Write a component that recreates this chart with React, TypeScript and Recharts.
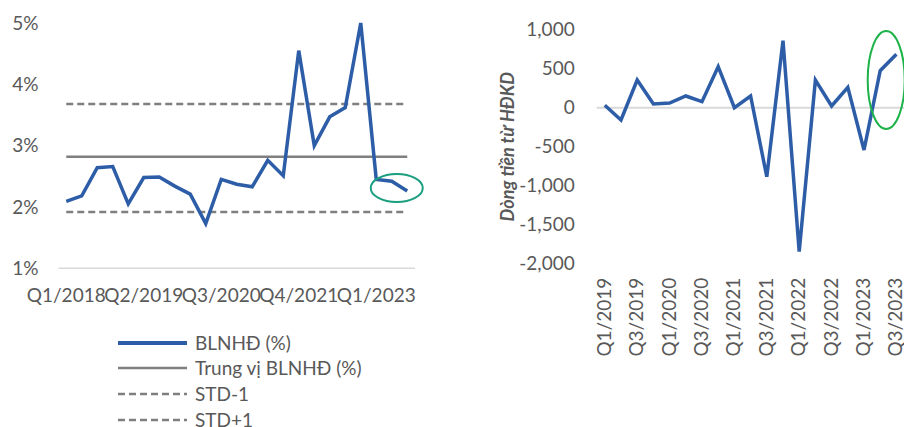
import React from "react";
import {
  LineChart,
  Line,
  XAxis,
  YAxis,
  ReferenceLine,
  ReferenceDot,
} from "recharts";

// left chart: gross margin by quarter (%)
const marginQuarters = [
  "Q1/2018", "Q2/2018", "Q3/2018", "Q4/2018",
  "Q1/2019", "Q2/2019", "Q3/2019", "Q4/2019",
  "Q1/2020", "Q2/2020", "Q3/2020", "Q4/2020",
  "Q1/2021", "Q2/2021", "Q3/2021", "Q4/2021",
  "Q1/2022", "Q2/2022", "Q3/2022", "Q4/2022",
  "Q1/2023", "Q2/2023", "Q3/2023",
];
const marginValues = [
  2.09, 2.18, 2.64, 2.66, 2.05, 2.48, 2.49, 2.34, 2.21, 1.73, 2.45, 2.37,
  2.33, 2.76, 2.51, 4.55, 3.0, 3.47, 3.62, 5.0, 2.45, 2.42, 2.26,
];
const marginTicks = [1, 2, 3, 4, 5];
const MEDIAN = 2.82;
const STD_MINUS = 1.92;
const STD_PLUS = 3.68;

// right chart: operating cash flow
const cashQuarters = [
  "Q1/2019", "Q2/2019", "Q3/2019", "Q4/2019",
  "Q1/2020", "Q2/2020", "Q3/2020", "Q4/2020",
  "Q1/2021", "Q2/2021", "Q3/2021", "Q4/2021",
  "Q1/2022", "Q2/2022", "Q3/2022", "Q4/2022",
  "Q1/2023", "Q2/2023", "Q3/2023",
];
const cashValues = [
  31, -158, 355, 47, 60, 150, 77, 526, 0, 150, -885, 859, -1846, 355, 22, 261,
  -542, 474, 685,
];
const cashTicks = [-2000, -1500, -1000, -500, 0, 500, 1000];

const legendItems = [
  { name: "BLNHĐ (%)", color: "#2E5DA8", width: 4, dash: undefined },
  { name: "Trung vị BLNHĐ (%)", color: "#7F7F7F", width: 2.5, dash: undefined },
  { name: "STD-1", color: "#7F7F7F", width: 2.5, dash: "7 4" },
  { name: "STD+1", color: "#7F7F7F", width: 2.5, dash: "7 4" },
];

const BLUE = "#2E5DA8";
const GRAY = "#7F7F7F";
const TEXT = "#595959";
const FONT = "Lato, 'Open Sans', sans-serif";
const FS = 19;

const marginData = marginQuarters.map((q, i) => ({ q, v: marginValues[i] }));
const cashData = cashQuarters.map((q, i) => ({ q, v: cashValues[i] }));

const RotatedTick = (props: any) => {
  const { x, y, payload } = props;
  return (
    <g transform={`translate(${x},${y}) rotate(-90)`}>
      <text x={0} y={0} dy="0.32em" textAnchor="end" fill={TEXT} fontSize={FS} fontFamily={FONT}>
        {payload.value}
      </text>
    </g>
  );
};

const fmtThousands = (v: number) => v.toLocaleString("en-US");

export default function App() {
  return (
    <div
      style={{
        position: "absolute",
        left: 0,
        top: 0,
        width: 904,
        height: 427,
        overflow: "hidden",
        background: "#fff",
        fontFamily: FONT,
      }}
    >
      <div style={{ position: "absolute", left: 0, top: 0 }}>
        <LineChart
          width={430}
          height={310}
          data={marginData}
          margin={{ top: 23, right: 15, left: 8.5, bottom: 11.7 }}
        >
          <XAxis
            dataKey="q"
            interval={4}
            height={30}
            padding={{ left: 7.75, right: 7.75 }}
            axisLine={{ stroke: "#D9D9D9", strokeWidth: 1.5 }}
            tickLine={false}
            tickSize={0}
            tickMargin={20}
            tick={{ fill: TEXT, fontSize: FS, fontFamily: FONT }}
          />
          <YAxis
            width={50}
            domain={[1, 5]}
            ticks={marginTicks}
            axisLine={false}
            tickLine={false}
            tickSize={0}
            tickMargin={20}
            tickFormatter={(v: number) => `${v}%`}
            tick={{ fill: TEXT, fontSize: FS, fontFamily: FONT }}
          />
          <ReferenceLine
            segment={[
              { x: marginQuarters[0], y: STD_PLUS },
              { x: marginQuarters[marginQuarters.length - 1], y: STD_PLUS },
            ]}
            stroke={GRAY}
            strokeWidth={2.5}
            strokeDasharray="7 4"
          />
          <ReferenceLine
            segment={[
              { x: marginQuarters[0], y: MEDIAN },
              { x: marginQuarters[marginQuarters.length - 1], y: MEDIAN },
            ]}
            stroke={GRAY}
            strokeWidth={2.5}
          />
          <ReferenceLine
            segment={[
              { x: marginQuarters[0], y: STD_MINUS },
              { x: marginQuarters[marginQuarters.length - 1], y: STD_MINUS },
            ]}
            stroke={GRAY}
            strokeWidth={2.5}
            strokeDasharray="7 4"
          />
          <Line
            type="linear"
            dataKey="v"
            stroke={BLUE}
            strokeWidth={3.5}
            dot={false}
            isAnimationActive={false}
          />
          <ReferenceDot
            x="Q2/2023"
            y={2.31}
            ifOverflow="visible"
            shape={(p: any) => (
              <ellipse cx={p.cx + 5} cy={p.cy} rx={26} ry={14} fill="none" stroke="#1A9E80" strokeWidth={2} />
            )}
          />
        </LineChart>
      </div>

      <div style={{ position: "absolute", left: 118, top: 335.5 }}>
        {legendItems.map((it, i) => (
          <div
            key={it.name}
            style={{
              display: "flex",
              alignItems: "center",
              height: 14,
              marginBottom: i < legendItems.length - 1 ? 11.7 : 0,
            }}
          >
            <svg width={69} height={10} style={{ display: "block" }}>
              <line
                x1={0}
                y1={5}
                x2={69}
                y2={5}
                stroke={it.color}
                strokeWidth={it.width}
                strokeDasharray={it.dash}
                strokeLinecap={it.dash ? "butt" : "round"}
              />
            </svg>
            <span style={{ marginLeft: 8, fontSize: FS, lineHeight: "14px", color: TEXT, whiteSpace: "nowrap" }}>
              {it.name}
            </span>
          </div>
        ))}
      </div>

      <div style={{ position: "absolute", left: 445, top: 0 }}>
        <LineChart
          width={460}
          height={427}
          data={cashData}
          margin={{ top: 29.7, right: 0.5, left: 21.7, bottom: 63.3 }}
        >
          <XAxis
            dataKey="q"
            interval={1}
            height={100}
            padding={{ left: 8.1, right: 8.1 }}
            axisLine={false}
            tickLine={false}
            tickSize={0}
            tickMargin={14}
            tick={<RotatedTick />}
          />
          <YAxis
            width={130}
            domain={[-2000, 1000]}
            ticks={cashTicks}
            axisLine={false}
            tickLine={false}
            tickSize={0}
            tickMargin={22}
            tickFormatter={fmtThousands}
            tick={{ fill: TEXT, fontSize: FS, fontFamily: FONT }}
            label={{
              content: (p: any) => {
                const vb = p.viewBox;
                const cx = vb.x + 41.3;
                const cy = vb.y + vb.height / 2;
                return (
                  <text
                    x={cx}
                    y={cy}
                    dy="0.35em"
                    transform={`rotate(-90, ${cx}, ${cy})`}
                    textAnchor="middle"
                    fill={TEXT}
                    fontSize={18}
                    fontWeight="bold"
                    fontStyle="italic"
                    fontFamily={FONT}
                  >
                    Dòng tiền từ HĐKD
                  </text>
                );
              },
            }}
          />
          <ReferenceLine y={0} stroke="#D9D9D9" strokeWidth={2} />
          <Line
            type="linear"
            dataKey="v"
            stroke={BLUE}
            strokeWidth={3.5}
            dot={false}
            isAnimationActive={false}
          />
          <ReferenceDot
            x="Q2/2023"
            y={355}
            ifOverflow="visible"
            shape={(p: any) => (
              <ellipse cx={p.cx + 6} cy={p.cy} rx={18.5} ry={49} fill="none" stroke="#1DB34A" strokeWidth={2} />
            )}
          />
        </LineChart>
      </div>
    </div>
  );
}
